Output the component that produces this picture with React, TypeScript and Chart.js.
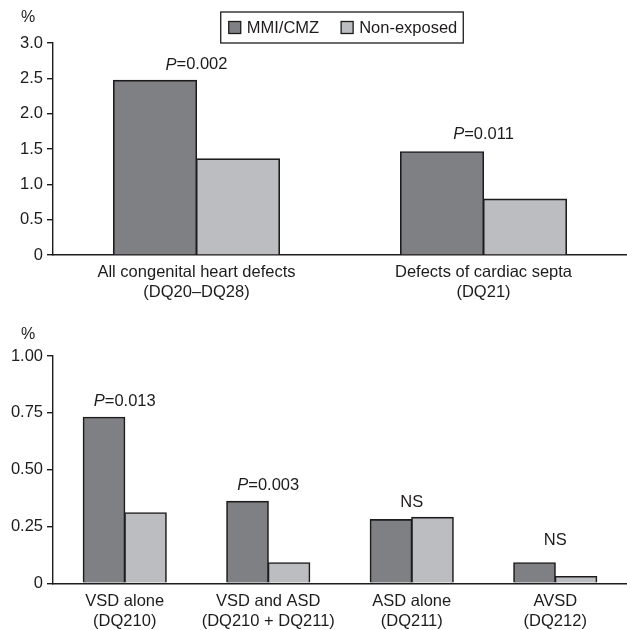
import React, { useEffect, useRef } from "react";
import { Chart, registerables } from "chart.js";

Chart.register(...registerables);

// ---------- Data ----------
const seriesNames = ["MMI/CMZ", "Non-exposed"];

const topCategories = [
  ["All congenital heart defects", "(DQ20–DQ28)"],
  ["Defects of cardiac septa", "(DQ21)"],
];
const topExposed = [2.47, 1.46];
const topNonExposed = [1.36, 0.79];
const topAnnotations = ["P=0.002", "P=0.011"];
const topAnnotationLevels = [2.69, 1.7];
const topYTicks = [0, 0.5, 1, 1.5, 2, 2.5, 3];
const topYTickLabels = ["0", "0.5", "1.0", "1.5", "2.0", "2.5", "3.0"];

const bottomCategories = [
  ["VSD alone", "(DQ210)"],
  ["VSD and ASD", "(DQ210 + DQ211)"],
  ["ASD alone", "(DQ211)"],
  ["AVSD", "(DQ212)"],
];
const bottomExposed = [0.73, 0.36, 0.28, 0.09];
const bottomNonExposed = [0.31, 0.09, 0.29, 0.03];
const bottomAnnotations = ["P=0.013", "P=0.003", "NS", "NS"];
const bottomAnnotationLevels = [0.8, 0.43, 0.356, 0.187];
const bottomYTicks = [0, 0.25, 0.5, 0.75, 1];
const bottomYTickLabels = ["0", "0.25", "0.50", "0.75", "1.00"];

// ---------- Style ----------
const FONT = "'Liberation Sans', Arial, sans-serif";
const FONT_SIZE = 16.5;
const INK = "#1e1b1c";
const DARK = "#7f8084";
const LIGHT = "#bcbdc1";

const overlayPlugin = {
  id: "overlay",
  afterDraw(chart: any, _args: any, opts: any) {
    const ctx = chart.ctx;
    const area = chart.chartArea;
    const x = chart.scales.x;
    const y = chart.scales.y;
    ctx.save();
    ctx.fillStyle = INK;
    ctx.textBaseline = "middle";

    // "%" unit label
    ctx.font = `16px ${FONT}`;
    ctx.textAlign = "center";
    ctx.fillText("%", 28, area.top - opts.percentOffset);

    // annotations
    const labels: string[] = opts.annotations;
    const levels: number[] = opts.levels;
    labels.forEach((txt, i) => {
      const cx = x.getPixelForValue(i);
      const cy = y.getPixelForValue(levels[i]);
      if (txt.startsWith("P=")) {
        const rest = txt.slice(1);
        ctx.font = `italic ${FONT_SIZE}px ${FONT}`;
        const wP = ctx.measureText("P").width;
        ctx.font = `${FONT_SIZE}px ${FONT}`;
        const wR = ctx.measureText(rest).width;
        const left = cx - (wP + wR) / 2;
        ctx.textAlign = "left";
        ctx.font = `italic ${FONT_SIZE}px ${FONT}`;
        ctx.fillText("P", left, cy);
        ctx.font = `${FONT_SIZE}px ${FONT}`;
        ctx.fillText(rest, left + wP, cy);
      } else {
        ctx.textAlign = "center";
        ctx.font = `${FONT_SIZE}px ${FONT}`;
        ctx.fillText(txt, cx, cy);
      }
    });

    // legend box
    if (opts.legend) {
      ctx.font = `${FONT_SIZE}px ${FONT}`;
      const padL = 8, padR = 6, sq = 12, gap = 6, itemGap = 22;
      const colors = [DARK, LIGHT];
      const widths = seriesNames.map((n) => ctx.measureText(n).width);
      const total =
        padL + widths.reduce((a: number, w: number) => a + sq + gap + w, 0) + itemGap * (seriesNames.length - 1) + padR;
      const boxTop = 12, boxH = 31;
      const left = (area.left + area.right) / 2 - total / 2 + 2;
      ctx.strokeStyle = INK;
      ctx.lineWidth = 1.3;
      ctx.strokeRect(left, boxTop, total, boxH);
      let cur = left + padL;
      const midY = boxTop + boxH / 2;
      seriesNames.forEach((n, i) => {
        ctx.fillStyle = colors[i];
        ctx.fillRect(cur, midY - sq / 2, sq, sq);
        ctx.strokeRect(cur, midY - sq / 2, sq, sq);
        cur += sq + gap;
        ctx.fillStyle = INK;
        ctx.textAlign = "left";
        ctx.fillText(n, cur, midY + 1);
        cur += widths[i] + itemGap;
      });
    }
    ctx.restore();
  },
};

function makeConfig(
  categories: string[][],
  exposed: number[],
  nonExposed: number[],
  yMax: number,
  yTicks: number[],
  yTickLabels: string[],
  topPad: number,
  xAxisHeight: number,
  overlay: any
): any {
  const common = {
    borderColor: INK,
    borderWidth: 1.6,
    categoryPercentage: 0.578,
    barPercentage: 1,
    inflateAmount: 0.6,
  };
  return {
    type: "bar",
    data: {
      labels: categories,
      datasets: [
        { label: seriesNames[0], data: exposed, backgroundColor: DARK, ...common },
        { label: seriesNames[1], data: nonExposed, backgroundColor: LIGHT, ...common },
      ],
    },
    options: {
      responsive: false,
      animation: false,
      events: [],
      layout: { padding: { top: topPad, left: 0, right: 0, bottom: 0 } },
      plugins: {
        legend: { display: false },
        tooltip: { enabled: false },
        title: { display: false },
        overlay,
      },
      scales: {
        x: {
          offset: true,
          grid: { display: true, drawOnChartArea: false, drawTicks: false, color: INK },
          border: { display: true, color: INK, width: 1.4 },
          ticks: {
            color: INK,
            padding: 8,
            maxRotation: 0,
            autoSkip: false,
            font: { family: FONT, size: FONT_SIZE, lineHeight: 1.2 },
          },
          afterFit: (axis: any) => {
            axis.height = xAxisHeight;
          },
        },
        y: {
          min: 0,
          max: yMax,
          grid: { display: true, drawOnChartArea: false, drawTicks: true, tickLength: 6, color: INK, lineWidth: 1.4 },
          border: { display: true, color: INK, width: 1.4 },
          afterBuildTicks: (axis: any) => {
            axis.ticks = yTicks.map((v) => ({ value: v }));
          },
          ticks: {
            color: INK,
            padding: 4,
            font: { family: FONT, size: FONT_SIZE },
            callback: (_v: any, i: number) => yTickLabels[i],
          },
          afterFit: (axis: any) => {
            axis.width = 53;
          },
        },
      },
    },
    plugins: [overlayPlugin],
  };
}

export default function App() {
  const topRef = useRef<HTMLCanvasElement>(null);
  const bottomRef = useRef<HTMLCanvasElement>(null);

  useEffect(() => {
    document.body.style.margin = "0";
    const top = new Chart(
      topRef.current as HTMLCanvasElement,
      makeConfig(topCategories, topExposed, topNonExposed, 3, topYTicks, topYTickLabels, 43, 50, {
        annotations: topAnnotations,
        levels: topAnnotationLevels,
        legend: true,
        percentOffset: 25,
      })
    );
    const bottom = new Chart(
      bottomRef.current as HTMLCanvasElement,
      makeConfig(bottomCategories, bottomExposed, bottomNonExposed, 1, bottomYTicks, bottomYTickLabels, 51, 46.7, {
        annotations: bottomAnnotations,
        levels: bottomAnnotationLevels,
        legend: false,
        percentOffset: 21,
      })
    );
    return () => {
      top.destroy();
      bottom.destroy();
    };
  }, []);

  return (
    <div style={{ width: 627, height: 630, background: "#fff" }}>
      <canvas ref={topRef} width={627} height={305} style={{ display: "block" }} />
      <canvas ref={bottomRef} width={627} height={325} style={{ display: "block" }} />
    </div>
  );
}
